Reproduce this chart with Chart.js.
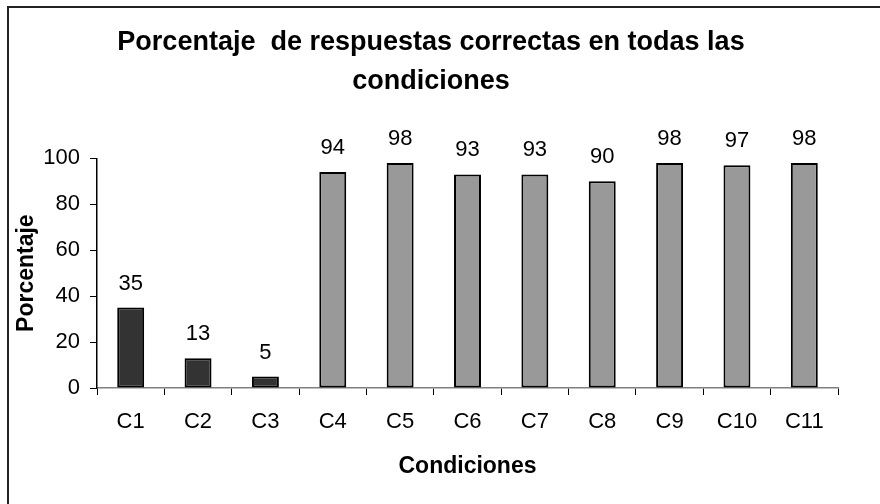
<!DOCTYPE html>
<html>
<head>
<meta charset="utf-8">
<script src="https://cdn.jsdelivr.net/npm/chart.js@4/dist/chart.umd.min.js"></script>
<style>
  html, body { margin: 0; padding: 0; background: #fff; }
  #wrap { position: relative; width: 880px; height: 504px; overflow: hidden; }
  #frame { position: absolute; left: 7px; top: 6px; width: 900px; height: 520px;
           border-left: 2px solid #222; border-top: 2px solid #222; }
  canvas { position: absolute; left: 0; top: 0; }
</style>
</head>
<body>
<div id="wrap">
  <div id="frame"></div>
  <canvas id="myChart" width="880" height="504"></canvas>
</div>
<script>
    // datos
    var condiciones = ["C1", "C2", "C3", "C4", "C5", "C6", "C7", "C8", "C9", "C10", "C11"];
    var porcentajes = [35, 13, 5, 94, 98, 93, 93, 90, 98, 97, 98];
    var yTicks = [0, 20, 40, 60, 80, 100];

    var fuente = "'Liberation Sans', Arial, sans-serif";

    // C1-C3 oscuras, el resto gris
    var colores = porcentajes.map(function(v, i){ return i < 3 ? "#333333" : "#999999"; });

    // etiquetas encima de cada barra
    var etiquetas = {
        id: "etiquetas",
        afterDatasetsDraw: function(chart) {
            var ctx = chart.ctx;
            var meta = chart.getDatasetMeta(0);
            ctx.save();
            ctx.font = "22px " + fuente;
            ctx.fillStyle = "#000";
            ctx.textAlign = "center";
            ctx.textBaseline = "alphabetic";
            meta.data.forEach(function(bar, i){
                ctx.fillText(String(porcentajes[i]), bar.x, bar.y - 18);
            });
            ctx.restore();
        }
    };

    var ctx = document.getElementById("myChart").getContext("2d");
    var myChart = new Chart(ctx, {
        type: "bar",
        data: {
            labels: condiciones,
            datasets: [{
                data: porcentajes,
                backgroundColor: colores,
                borderColor: "#000",
                borderWidth: 2,
                borderSkipped: false,
                barPercentage: 0.4,
                categoryPercentage: 1
            }]
        },
        options: {
            responsive: false,
            animation: false,
            layout: { padding: { left: 24, right: 42, top: 0, bottom: 0 } },
            plugins: {
                legend: { display: false },
                tooltip: { enabled: false },
                title: {
                    display: true,
                    text: ["Porcentaje  de respuestas correctas en todas las", "condiciones"],
                    color: "#000",
                    font: { family: fuente, size: 27, weight: "bold", lineHeight: 1.45 },
                    padding: { top: 23, bottom: 57 }
                }
            },
            scales: {
                x: {
                    grid: { display: true, drawOnChartArea: false, tickLength: 7, tickColor: "#000", offset: true },
                    border: { color: "#808080", width: 1.5 },
                    ticks: { color: "#000", font: { family: fuente, size: 22 }, padding: 14 },
                    title: { display: true, text: "Condiciones", color: "#000",
                             font: { family: fuente, size: 23, weight: "bold" }, padding: { top: 0, bottom: 24 } },
                    afterFit: function(scale){ scale.height = 116; }
                },
                y: {
                    min: 0,
                    max: 100,
                    afterBuildTicks: function(scale){
                        scale.ticks = yTicks.map(function(v){ return { value: v }; });
                    },
                    grid: { display: true, drawOnChartArea: false, tickLength: 7, tickColor: "#000" },
                    border: { color: "#000", width: 1.5 },
                    ticks: { color: "#000", font: { family: fuente, size: 22 }, padding: 10 },
                    title: { display: true, text: "Porcentaje", color: "#000",
                             font: { family: fuente, size: 23, weight: "bold" }, padding: { top: -11, bottom: 0 } },
                    afterFit: function(scale){ scale.width = 73; }
                }
            }
        },
        plugins: [etiquetas]
    });
</script>
</body>
</html>
